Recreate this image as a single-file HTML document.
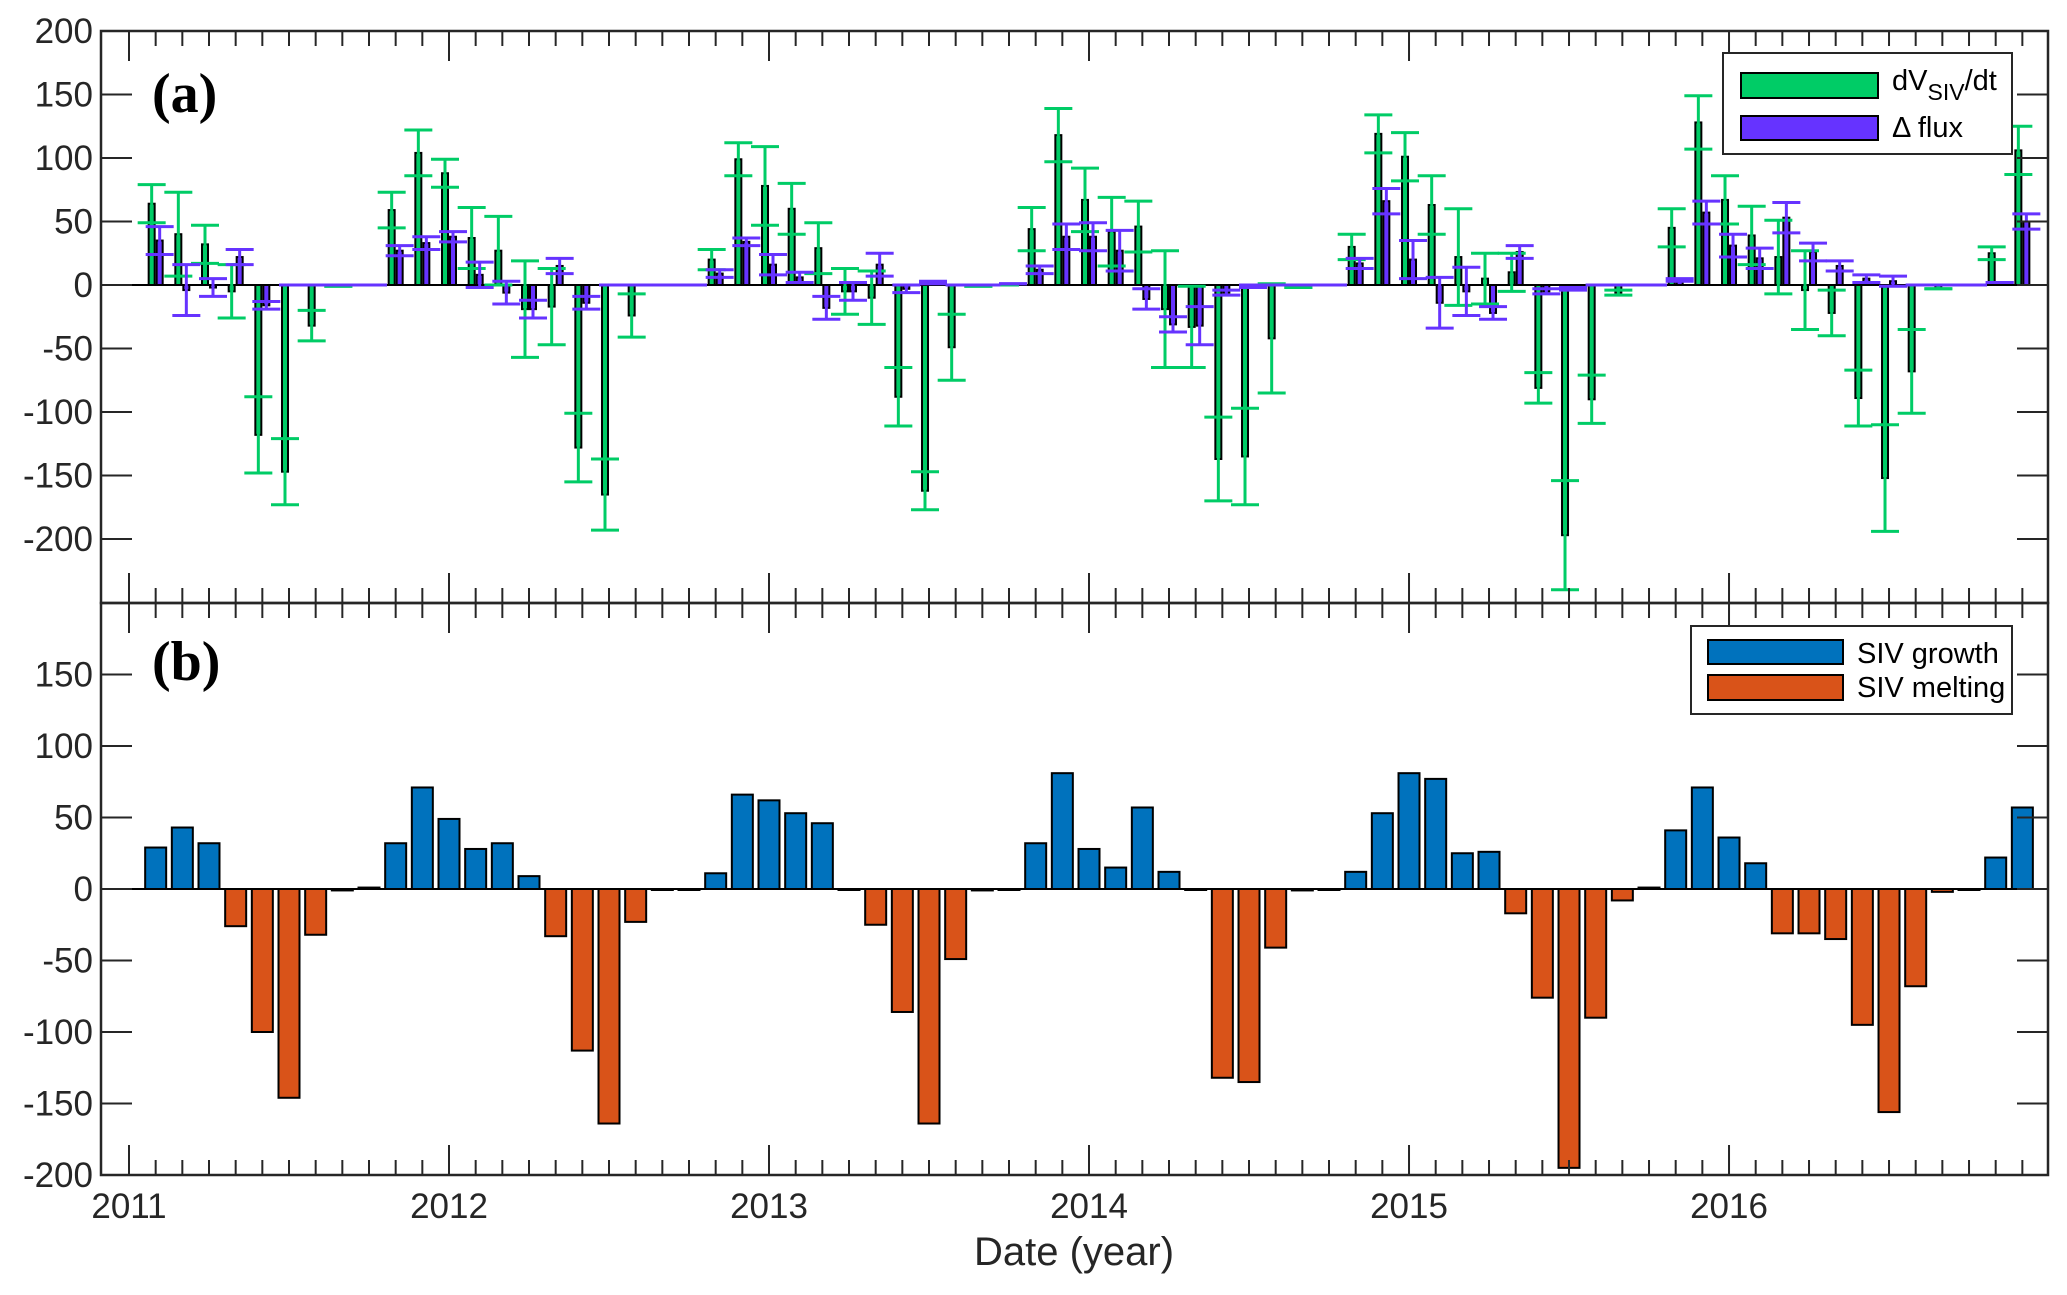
<!DOCTYPE html>
<html><head><meta charset="utf-8"><style>
html,body{margin:0;padding:0;background:#fff;}
svg{display:block;font-family:"Liberation Sans",Arial,sans-serif;}
</style></head><body>
<svg id="chart" width="2067" height="1295" viewBox="0 0 2067 1295" xmlns="http://www.w3.org/2000/svg">
<g id="bg"></g>
<g id="panelA"></g>
<g id="panelB"></g>
<g id="axes"></g>
<text x="152" y="112" font-family="Liberation Serif,serif" font-weight="bold" font-size="56" fill="#000">(a)</text>
<text x="152" y="680" font-family="Liberation Serif,serif" font-weight="bold" font-size="56" fill="#000">(b)</text>
<text x="1074" y="1265" text-anchor="middle" font-size="40" fill="#262626">Date (year)</text>
<g>
<rect x="1723" y="53" width="289" height="101" fill="#fff" stroke="#262626" stroke-width="2"/>
<rect x="1741" y="73" width="137" height="25" fill="#00CC66" stroke="#000" stroke-width="2"/>
<rect x="1741" y="116" width="137" height="24" fill="#6633FF" stroke="#000" stroke-width="2"/>
<text x="1892" y="90" font-size="29" fill="#000">dV<tspan font-size="23" dy="10">SIV</tspan><tspan dy="-10">/dt</tspan></text>
<text x="1892" y="137" font-size="29" fill="#000">Δ flux</text>
</g>
<g>
<rect x="1691" y="626" width="321" height="88" fill="#fff" stroke="#262626" stroke-width="2"/>
<rect x="1708" y="640" width="135" height="24" fill="#0072BD" stroke="#000" stroke-width="2"/>
<rect x="1708" y="675" width="135" height="25" fill="#D95319" stroke="#000" stroke-width="2"/>
<text x="1857" y="663" font-size="29" fill="#000">SIV growth</text>
<text x="1857" y="697" font-size="29" fill="#000">SIV melting</text>
</g>
</svg>
<script>
// ---- data (months Feb 2011 .. Dec 2016) ----
const startMonth = 1; // Feb 2011 (months since Jan 2011)
const dVdt = [64,40,32,-5,-118,-147,-32,-1,0,59,104,
 88,37,27,-19,-17,-128,-165,-24,0,0,20,99,
 78,60,29,-5,-10,-88,-162,-49,-1,0,44,118,
 67,42,46,-19,-33,-137,-135,-42,-2,0,30,119,
 101,63,22,5,10,-81,-197,-90,-6,0,45,128,
 67,39,22,-4,-22,-89,-152,-68,-3,0,25,106];
const dVdtErr = [15,33,15,21,30,26,12,0,0,14,18,
 11,24,27,38,30,27,28,17,0,0,8,13,
 31,20,20,18,21,23,15,26,0,0,17,21,
 25,27,20,46,32,33,38,43,0,0,10,15,
 19,23,38,20,15,12,43,19,2,0,15,21,
 19,23,29,31,18,22,42,33,0,0,5,19];
const flux = [35,-4,-2,22,-16,0,0,0,0,27,33,
 38,8,-6,-19,15,-14,0,0,0,0,9,34,
 16,6,-18,-5,16,-3,2,0,0,1,12,38,
 38,27,-11,-31,-32,-6,-1,0,0,0,17,66,
 20,-14,-5,-22,26,-5,-3,0,0,0,4,57,
 31,21,53,26,15,5,3,0,0,0,2,50];
const fluxErr = [11,20,7,6,3,0,0,0,0,4,5,
 4,10,9,7,6,5,0,0,0,0,3,3,
 8,4,9,7,9,3,1,0,0,0,3,10,
 11,16,8,6,15,2,1,0,0,0,4,10,
 15,20,19,5,5,2,1,0,0,0,1,9,
 9,8,12,7,4,3,4,0,0,0,0,6];
const sivChange = [29,43,32,-26,-100,-146,-32,-1,1,32,71,
 49,28,32,9,-33,-113,-164,-23,0,0,11,66,
 62,53,46,0,-25,-86,-164,-49,-1,0,32,81,
 28,15,57,12,0,-132,-135,-41,-1,0,12,53,
 81,77,25,26,-17,-76,-195,-90,-8,1,41,71,
 36,18,-31,-31,-35,-95,-156,-68,-2,0,22,57];
const years = ["2011","2012","2013","2014","2015","2016"];
const yTicksA = [200,150,100,50,0,-50,-100,-150,-200];
const yTicksB = [150,100,50,0,-50,-100,-150,-200];

// ---- axes geometry ----
const L=101, R=2048, TOPA=31, MID=603, BOT=1175;
function xM(m){ return 129 + m*26.667; }
function yA(v){ return 285 - v*1.27; }
function yB(v){ return 889 - v*1.43; }
const NS="http://www.w3.org/2000/svg";
function mk(tag, attrs, parent){ const e=document.createElementNS(NS,tag); for(const k in attrs) e.setAttribute(k,attrs[k]); parent.appendChild(e); return e; }
const A=document.getElementById('panelA'), B=document.getElementById('panelB'), AX=document.getElementById('axes');

// panel A zero line
let z=mk('line',{x1:L,x2:R,y1:yA(0),y2:yA(0),stroke:'#000','stroke-width':2},A);



// panel A bars
for(let i=0;i<dVdt.length;i++){
  const xc=xM(startMonth+i);
  const g=dVdt[i], p=flux[i];
  let r=mk('rect',{x:xc-7,y:Math.min(yA(0),yA(g)),width:6,height:Math.abs(yA(g)-yA(0)),fill:'#00CC66',stroke:'#000','stroke-width':2},A);
  
  
  let q=mk('rect',{x:xc+1,y:Math.min(yA(0),yA(p)),width:6,height:Math.abs(yA(p)-yA(0)),fill:'#6633FF',stroke:'#000','stroke-width':2},A);
  
  
}
function errbar(xc,v,e,color,name){
  const g=mk('g',{stroke:color,'stroke-width':3},A);
  
  
  mk('line',{x1:xc,x2:xc,y1:yA(v+e),y2:yA(v-e)},g);
  mk('line',{x1:xc-14,x2:xc+14,y1:yA(v+e),y2:yA(v+e)},g);
  mk('line',{x1:xc-14,x2:xc+14,y1:yA(v-e),y2:yA(v-e)},g);
}
for(let i=0;i<dVdt.length;i++){
  errbar(xM(startMonth+i)-4,dVdt[i],dVdtErr[i],'#00CC66','errorbar-dvdt');
}
for(let i=0;i<flux.length;i++){
  errbar(xM(startMonth+i)+4,flux[i],fluxErr[i],'#6633FF','errorbar-flux');
}

// panel B
let zb=mk('line',{x1:L,x2:R,y1:yB(0),y2:yB(0),stroke:'#000','stroke-width':2},B);


for(let i=0;i<sivChange.length;i++){
  const xc=xM(startMonth+i), v=sivChange[i];
  const r=mk('rect',{x:xc-10.5,y:Math.min(yB(0),yB(v)),width:21,height:Math.max(1,Math.abs(yB(v)-yB(0))),fill:v>=0?'#0072BD':'#D95319',stroke:'#000','stroke-width':2},B);
  
  
}

// frames
const fa=mk('rect',{x:L,y:TOPA,width:R-L,height:MID-TOPA,fill:'none',stroke:'#262626','stroke-width':2.5},AX);


const fb=mk('rect',{x:L,y:MID,width:R-L,height:BOT-MID,fill:'none',stroke:'#262626','stroke-width':2.5},AX);



// x ticks (monthly, yearly long)
for(let m=0;m<=72;m++){
  const x=xM(m); if(x<L||x>R) continue;
  const len = (m%12===0)?30:15;
  mk('line',{x1:x,x2:x,y1:TOPA,y2:TOPA+len,stroke:'#262626','stroke-width':2},AX);
  mk('line',{x1:x,x2:x,y1:MID-len,y2:MID+len,stroke:'#262626','stroke-width':2},AX);
  mk('line',{x1:x,x2:x,y1:BOT-len,y2:BOT,stroke:'#262626','stroke-width':2},AX);
}
years.forEach((y,k)=>{
  const t=mk('text',{x:xM(k*12),y:1218,'text-anchor':'middle','font-size':35,fill:'#262626'},AX);
  t.textContent=y;
  
  
});
// y ticks
yTicksA.forEach(v=>{
  const y=yA(v);
  mk('line',{x1:L,x2:L+31,y1:y,y2:y,stroke:'#262626','stroke-width':2},AX);
  mk('line',{x1:R-31,x2:R,y1:y,y2:y,stroke:'#262626','stroke-width':2},AX);
  const t=mk('text',{x:93,y:y+12,'text-anchor':'end','font-size':35,fill:'#262626'},AX);
  t.textContent=String(v);
  
  
});
yTicksB.forEach(v=>{
  const y=yB(v);
  mk('line',{x1:L,x2:L+31,y1:y,y2:y,stroke:'#262626','stroke-width':2},AX);
  mk('line',{x1:R-31,x2:R,y1:y,y2:y,stroke:'#262626','stroke-width':2},AX);
  const t=mk('text',{x:93,y:y+12,'text-anchor':'end','font-size':35,fill:'#262626'},AX);
  t.textContent=String(v);
  
  
});
</script>
</body></html>
